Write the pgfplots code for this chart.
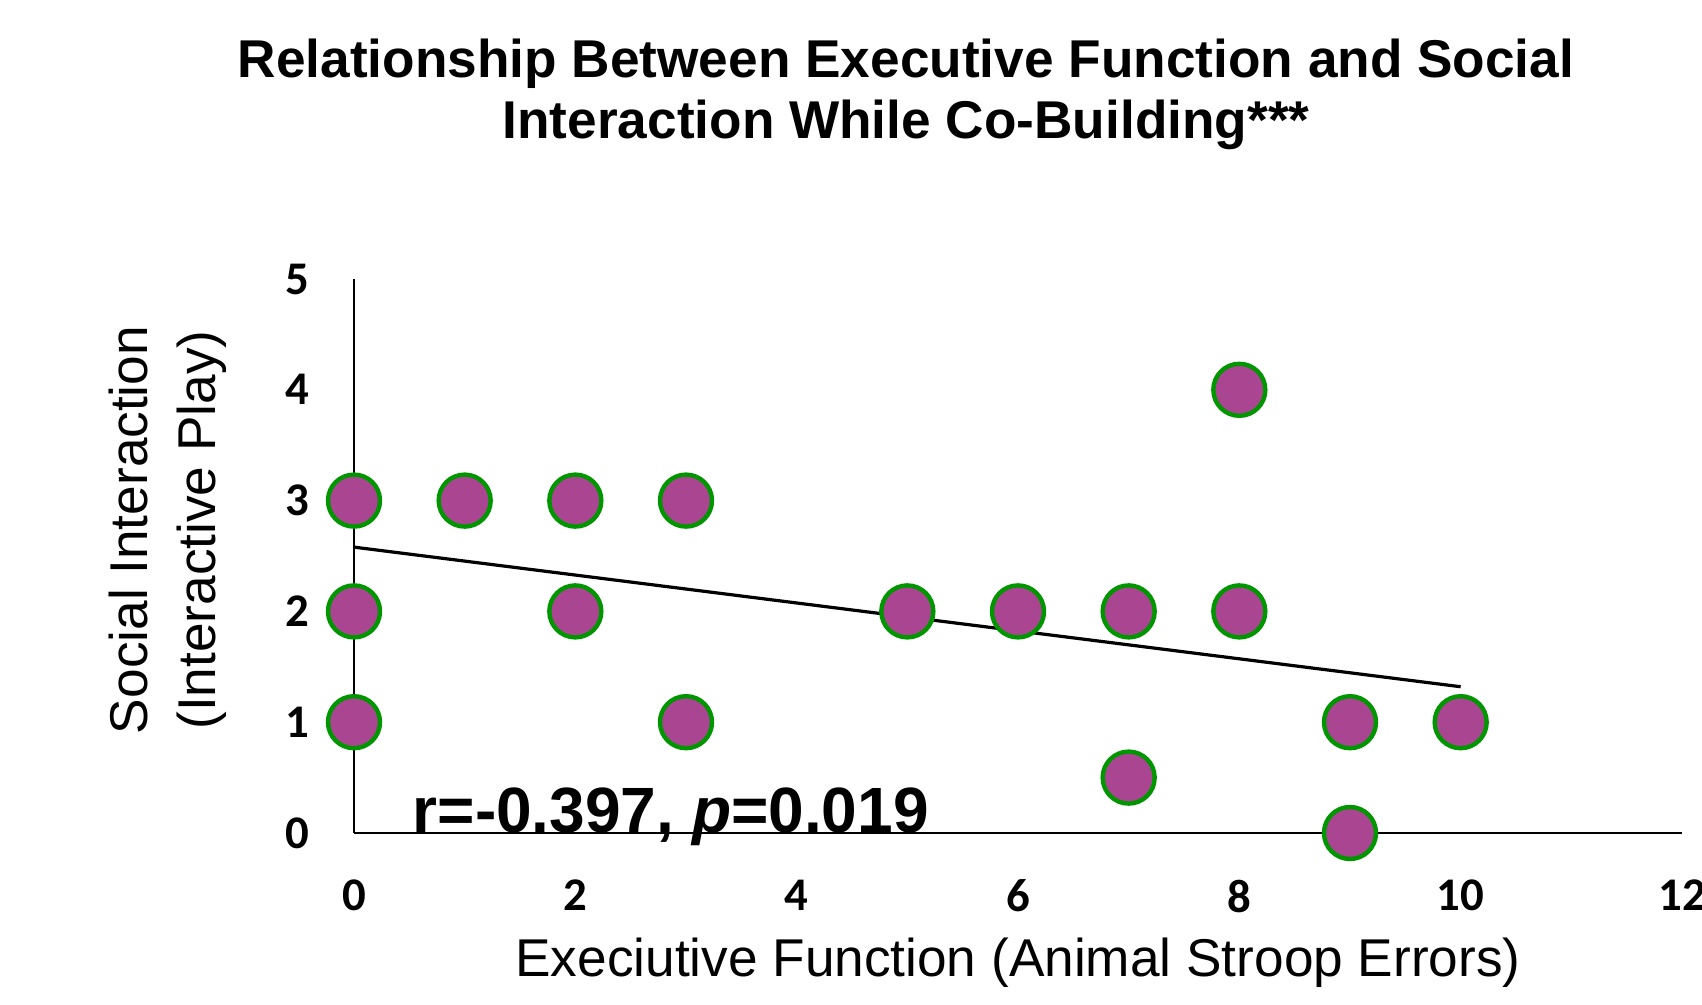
\documentclass[border=0pt]{standalone}
\usepackage{pgfplots}
\pgfplotsset{compat=1.18}
\usepackage{fontspec}
\setmainfont{Liberation Sans}
\newfontfamily\tickfont{Carlito}
\definecolor{dotfill}{RGB}{170,70,145}
\definecolor{dotedge}{RGB}{0,150,0}
\begin{document}
\begin{tikzpicture}
\path[use as bounding box] (-88.5pt,-43pt) rectangle (337pt,208.25pt);
\begin{axis}[
  at={(0,0)}, anchor=origin,
  scale only axis, width=332pt, height=138.5pt,
  xmin=0, xmax=12, ymin=0, ymax=5,
  axis x line=bottom, axis y line=left,
  axis line style={-, line width=0.5pt, black},
  xtick={0,2,4,6,8,10,12}, ytick={0,1,2,3,4,5},
  major tick length=0pt,
  tick label style={font=\tickfont\bfseries\fontsize{11.7}{13}\selectfont},
  xticklabel style={yshift=-8.2pt},
  yticklabel style={xshift=-7.6pt},
  /pgf/number format/assume math mode=true,
  clip=false,
]
\addplot[no marks, black, line width=0.8pt] coordinates {(0,2.58) (10,1.32)};
\addplot[only marks, mark=*, mark size=6.5pt,
  mark options={fill=dotfill, draw=dotedge, line width=1.1pt}] coordinates {
  (0,3) (1,3) (2,3) (3,3)
  (0,2) (2,2) (5,2) (6,2) (7,2) (8,2)
  (8,4)
  (0,1) (3,1) (9,1) (10,1)
  (7,0.5) (9,0)
};
\end{axis}
\node[anchor=base, font=\bfseries\fontsize{13.3}{15}\selectfont] at (138pt,188.75pt) {Relationship Between Executive Function and Social};
\node[anchor=base, font=\bfseries\fontsize{13.3}{15}\selectfont] at (138pt,173.5pt) {Interaction While Co-Building***};
\node[anchor=base, font=\fontsize{13.3}{15}\selectfont] at (166pt,-36pt) {Execiutive Function (Animal Stroop Errors)};
\node[anchor=base, rotate=90, font=\fontsize{13.3}{15}\selectfont] at (-51.5pt,75.75pt) {Social Interaction};
\node[anchor=base, rotate=90, font=\fontsize{13.3}{15}\selectfont] at (-34.5pt,75.75pt) {(Interactive Play)};
\node[anchor=base west, inner sep=0pt, font=\bfseries\fontsize{16}{18}\selectfont] at (14.5pt,0pt) {r=-0.397, \textit{p}=0.019};
\end{tikzpicture}
\end{document}
